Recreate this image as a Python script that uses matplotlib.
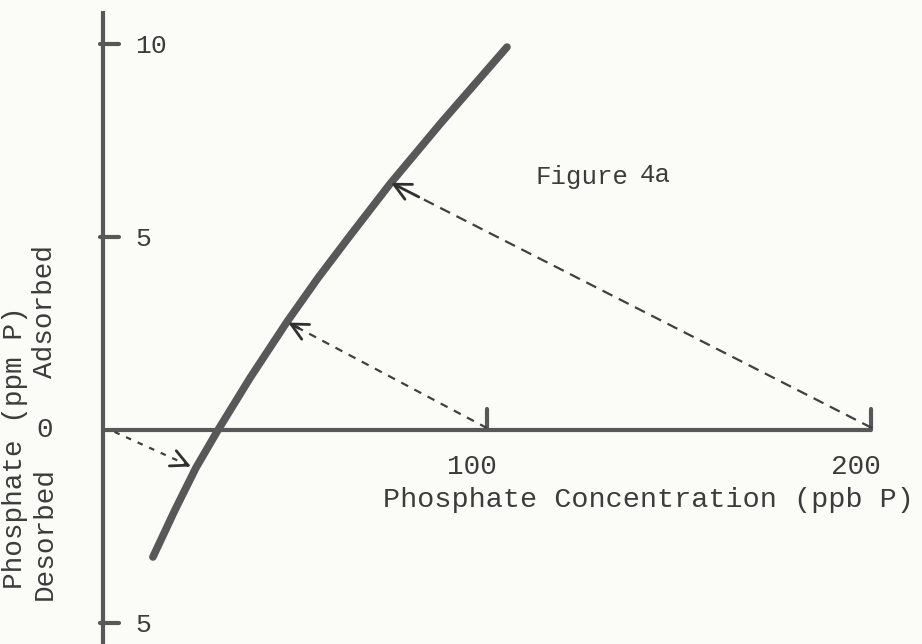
import numpy as np
import matplotlib.pyplot as plt

# curva (x em ppb P, y em ppm P)
curva_x = [13.0, 18.75, 24.2, 29.95, 38.3, 47.9, 56.0, 64.3, 74.7, 87.8, 98.2, 105.2]
curva_y = [-3.29, -2.07, -0.98, 0.0, 1.35, 2.80, 3.94, 5.03, 6.37, 7.93, 9.12, 9.92]

# setas tracejadas: origem no eixo x -> ponto na curva
setas_ini = [(200.3, 0.05), (100.0, 0.05), (3.0, -0.05)]
setas_fim = [(74.7, 6.42), (47.9, 2.80), (23.2, -0.96)]
setas_dash = [(0, (5, 3.2)), (0, (3.5, 3.2)), (0, (2.5, 3.2))]

yticks = [10, 5, -5]
ytick_labels = ["10", "5", "5"]
xticks = [100, 200]
xtick_labels = ["100", "200"]

cinza = "#585858"
cor_txt = "#3c3c3c"
fonte = "Liberation Mono"

fig = plt.figure(figsize=(9.22, 6.44), dpi=100)
fig.patch.set_facecolor("#fbfbf8")
ax = fig.add_axes([0, 0, 1, 1])
ax.set_facecolor("#fbfbf8")
ax.axis("off")

# escala: x 3.84 px/unidade, y 38.6 px/unidade (origem em 103, 430)
ax.set_xlim(-103 / 3.84, (922 - 103) / 3.84)
ax.set_ylim(-(644 - 430) / 38.6, 430 / 38.6)

# eixos desenhados à mão
ax.plot([0, 0], [-5.6, 10.85], color=cinza, lw=3, solid_capstyle="butt")
ax.plot([0, 200.3], [0, 0], color=cinza, lw=3, solid_capstyle="butt")

for v, lab in zip(yticks, ytick_labels):
    ax.plot([-0.8, 4.2], [v, v], color=cinza, lw=3, solid_capstyle="round")
    ax.text(8.3, v - 0.06, lab, fontsize=19, family=fonte, color=cor_txt,
            ha="left", va="center")

for v, lab in zip(xticks, xtick_labels):
    ax.plot([v, v], [0, 0.55], color=cinza, lw=3, solid_capstyle="round")
    ax.text(v - 4, -0.96, lab, fontsize=20, family=fonte, color=cor_txt,
            ha="center", va="center")

ax.text(-15.2, 0, "0", fontsize=20, family=fonte, color=cor_txt,
        ha="center", va="center")

# curva
ax.plot(curva_x, curva_y, color=cinza, lw=5.5, solid_capstyle="round",
        solid_joinstyle="round")

# setas
for (x0, y0), (x1, y1), ds in zip(setas_ini, setas_fim, setas_dash):
    dx, dy = x1 - x0, y1 - y0
    ax.plot([x0, x1 - 0.05 * dx], [y0, y1 - 0.05 * dy], color="#404040",
            lw=1.6, linestyle=ds)
    ax.annotate("", xy=(x1, y1), xytext=(x1 - 0.06 * dx, y1 - 0.06 * dy),
                arrowprops=dict(arrowstyle="->,head_length=1.2,head_width=0.6",
                                color="#303030", lw=2.0, shrinkA=0, shrinkB=1))

# textos
ax.text(112.5, 6.55, "Figure", fontsize=18.5, family=fonte, color=cor_txt,
        ha="left", va="center")
ax.text(139.8, 6.6, "4a", fontsize=18.5, family=fonte, color=cor_txt,
        ha="left", va="center")

ax.text(73, -1.81, "Phosphate Concentration (ppb P)", fontsize=20.5,
        family=fonte, color=cor_txt, ha="left", va="center")

ax.text(-22.9, -0.47, "Phosphate (ppm P)", fontsize=20, family=fonte,
        color=cor_txt, rotation=90, ha="center", va="center")
ax.text(-15.2, 3.06, "Adsorbed", fontsize=20, family=fonte,
        color=cor_txt, rotation=90, ha="center", va="center")
ax.text(-15.2, -2.67, "Desorbed", fontsize=20, family=fonte,
        color=cor_txt, rotation=90, ha="center", va="center")

fig.savefig("out.png", dpi=100, facecolor=fig.get_facecolor())
